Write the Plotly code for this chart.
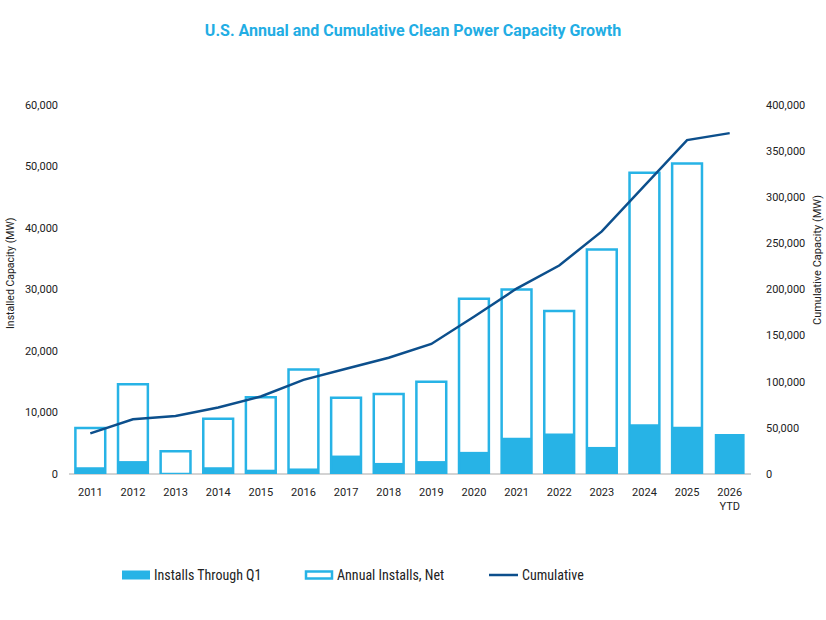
import plotly.graph_objects as go

years = ["2011", "2012", "2013", "2014", "2015", "2016", "2017", "2018", "2019",
         "2020", "2021", "2022", "2023", "2024", "2025", "2026<br>YTD"]
annual_net = [7500, 14600, 3700, 9000, 12500, 17000, 12400, 13000, 15000,
              28500, 30000, 26500, 36500, 49000, 50500, None]
q1_installs = [1100, 2100, 0, 1100, 700, 900, 3000, 1800, 2100,
               3600, 5900, 6600, 4400, 8100, 7700, 6500]
cumulative = [44000, 59300, 62900, 72000, 84000, 102000, 114000, 126000, 141000,
              170500, 201000, 226000, 263000, 313000, 362000, 369500]

left_ticks = [0, 10000, 20000, 30000, 40000, 50000, 60000]
right_ticks = [0, 50000, 100000, 150000, 200000, 250000, 300000, 350000, 400000]
legend_labels = ["Installs Through Q1", "Annual Installs, Net", "Cumulative"]
left_title = "Installed Capacity (MW)"
right_title = "Cumulative Capacity (MW)"

BLUE = "#27b3e6"
NAVY = "#0c4f8c"
TXT = "#222222"
FONT = "Roboto"
LEGFONT = "Liberation Sans Narrow, Roboto Condensed, Roboto"

W, H = 826, 620
ML, MR, MT, MB = 69, 75, 105, 146
PW, PH = W - ML - MR, H - MT - MB

fig = go.Figure()
fig.add_trace(go.Bar(
    x=years, y=q1_installs, name=legend_labels[0], showlegend=False,
    marker=dict(color=BLUE, line=dict(color=BLUE, width=0)),
))
fig.add_trace(go.Bar(
    x=years, y=annual_net, name=legend_labels[1], showlegend=False,
    marker=dict(color="rgba(255,255,255,0)", line=dict(color=BLUE, width=2.5)),
))
fig.add_trace(go.Scatter(
    x=years, y=cumulative, name=legend_labels[2], yaxis="y2", mode="lines",
    showlegend=False, line=dict(color=NAVY, width=2.5),
))

# convert pixel positions into paper coordinates
def px(x):
    return (x - ML) / PW

def py(y):
    return (MT + PH - y) / PH

shapes = []
annotations = []
leg_y = 575
shapes.append(dict(type="rect", xref="paper", yref="paper",
                   x0=px(122), x1=px(150), y0=py(579.5), y1=py(570.5),
                   fillcolor=BLUE, line=dict(width=0)))
shapes.append(dict(type="rect", xref="paper", yref="paper",
                   x0=px(306), x1=px(332), y0=py(578.5), y1=py(571.5),
                   fillcolor="white", line=dict(color=BLUE, width=2.5)))
shapes.append(dict(type="line", xref="paper", yref="paper",
                   x0=px(489), x1=px(518), y0=py(leg_y), y1=py(leg_y),
                   line=dict(color=NAVY, width=2.5)))
for xpos, lab in zip([152, 335, 520], legend_labels):
    annotations.append(dict(text=lab, xref="paper", yref="paper", x=px(xpos), y=py(leg_y),
                            xanchor="left", yanchor="middle", showarrow=False,
                            font=dict(family=LEGFONT, size=14, color=TXT)))

# axis titles
annotations.append(dict(text=left_title, xref="paper", yref="paper", x=px(10), y=py(273),
                        xanchor="center", yanchor="middle", textangle=-90, showarrow=False,
                        font=dict(family=FONT, size=10.5, color=TXT)))
annotations.append(dict(text=right_title, xref="paper", yref="paper", x=px(817), y=py(260),
                        xanchor="center", yanchor="middle", textangle=-90, showarrow=False,
                        font=dict(family=FONT, size=11, color=TXT)))

fig.update_layout(
    width=W, height=H,
    paper_bgcolor="white", plot_bgcolor="white",
    margin=dict(l=ML, r=MR, t=MT, b=MB, autoexpand=False),
    barmode="overlay", bargap=0.3,
    showlegend=False,
    font=dict(family=FONT, color=TXT, size=11),
    title=dict(text="<b>U.S. Annual and Cumulative Clean Power Capacity Growth</b>",
               x=0.5, xanchor="center", y=1 - 30 / H, yanchor="middle",
               font=dict(family=FONT, size=16, color="#22ade4")),
    xaxis=dict(type="category", showgrid=False, showline=False, ticks="",
               tickfont=dict(size=11, color=TXT), ticklabelstandoff=10, automargin=False),
    yaxis=dict(range=[0, 60000], tickvals=left_ticks, tickformat=",",
               showgrid=False, zeroline=True, zerolinecolor="#d3d3d3", zerolinewidth=1.5,
               tickfont=dict(size=11, color=TXT), ticklabelstandoff=10, automargin=False),
    yaxis2=dict(range=[0, 400000], tickvals=right_ticks, tickformat=",",
                overlaying="y", side="right", showgrid=False, zeroline=False,
                tickfont=dict(size=11, color=TXT), ticklabelstandoff=14, automargin=False),
    shapes=shapes,
    annotations=annotations,
)

fig.write_html("out.html")
